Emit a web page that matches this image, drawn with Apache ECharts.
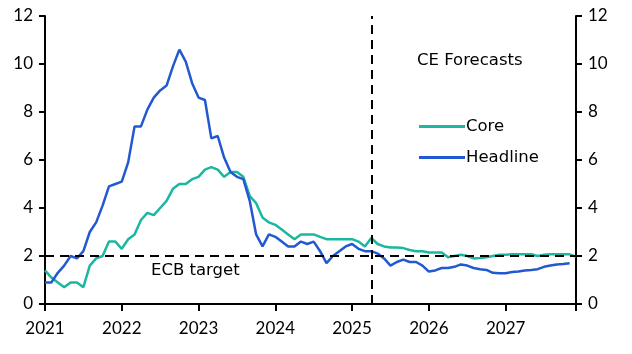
<!DOCTYPE html>
<html>
<head>
<meta charset="utf-8">
<script src="https://cdn.jsdelivr.net/npm/echarts@6/dist/echarts.min.js"></script>
<style>
  html, body { margin: 0; padding: 0; background: #fff; }
  #main { width: 632px; height: 354px; }
</style>
</head>
<body>
<div id="main"></div>
<script>
// months counted from Jan 2021 (0) to Dec 2027 (83)
var yearTicks = ['2021', '2022', '2023', '2024', '2025', '2026', '2027'];

// y/y %, Jan 2021 onwards
var core = [
  1.4, 1.1, 0.9, 0.7, 0.9, 0.9, 0.7, 1.6, 1.9, 2.0, 2.6, 2.6,
  2.3, 2.7, 2.9, 3.5, 3.8, 3.7, 4.0, 4.3, 4.8, 5.0, 5.0, 5.2,
  5.3, 5.6, 5.7, 5.6, 5.3, 5.5, 5.5, 5.3, 4.5, 4.2, 3.6, 3.4,
  3.3, 3.1, 2.9, 2.7, 2.9, 2.9, 2.9, 2.8, 2.7, 2.7, 2.7, 2.7,
  2.7, 2.6, 2.4, 2.75, 2.5, 2.4, 2.35, 2.35, 2.33, 2.25, 2.2, 2.2,
  2.15, 2.15, 2.15, 1.95, 2.0, 2.05, 2.0, 1.9, 1.92, 1.95, 2.0, 2.05,
  2.05, 2.07, 2.07, 2.07, 2.07, 2.0, 2.05, 2.07, 2.07, 2.07, 2.07, 1.97
];
var headline = [
  0.9, 0.9, 1.3, 1.6, 2.0, 1.9, 2.2, 3.0, 3.4, 4.1, 4.9, 5.0,
  5.1, 5.9, 7.4, 7.4, 8.1, 8.6, 8.9, 9.1, 9.9, 10.6, 10.1, 9.2,
  8.6, 8.5, 6.9, 7.0, 6.1, 5.5, 5.3, 5.2, 4.3, 2.9, 2.4, 2.9,
  2.8, 2.6, 2.4, 2.4, 2.6, 2.5, 2.6, 2.2, 1.7, 2.0, 2.2, 2.4,
  2.5, 2.3, 2.2, 2.2, 2.1, 1.9, 1.6, 1.75, 1.85, 1.75, 1.75, 1.6,
  1.35, 1.4, 1.5, 1.5, 1.55, 1.65, 1.6, 1.5, 1.45, 1.42, 1.3, 1.28,
  1.28, 1.33, 1.35, 1.4, 1.42, 1.45, 1.55, 1.6, 1.65, 1.67, 1.7
];
var ecbTarget = 2;
var forecastStart = 51; // Apr 2025

function toPairs(arr) {
  return arr.map(function (v, i) { return [i, v]; });
}

var numFont = 'Lato';
var textFont = 'DejaVu Sans';
var chart = echarts.init(document.getElementById('main'));

var yAxisBase = {
  type: 'value', min: 0, max: 12, interval: 2,
  axisLine: { show: true, lineStyle: { color: '#000', width: 2 } },
  axisTick: { show: true, length: 6, lineStyle: { color: '#000', width: 2 } },
  axisLabel: { color: '#000', fontSize: 17, fontFamily: numFont, margin: 12 },
  splitLine: { show: false }
};

chart.setOption({
  animation: false,
  grid: { left: 45, right: 56, top: 16, bottom: 50 },
  legend: {
    orient: 'vertical', left: 414, top: 113,
    itemWidth: 46, itemHeight: 3, itemGap: 14,
    icon: 'rect',
    textStyle: { color: '#000', fontSize: 16.5, fontFamily: textFont, padding: [0, 0, 0, -4] },
    data: ['Core', 'Headline']
  },
  graphic: [
    { type: 'text', left: 417, top: 52,
      style: { text: 'CE Forecasts', fill: '#000', fontSize: 16.5, fontFamily: textFont } },
    { type: 'text', left: 151, top: 262,
      style: { text: 'ECB target', fill: '#000', fontSize: 16.5, fontFamily: textFont } }
  ],
  xAxis: {
    type: 'value', min: 0, max: 83, interval: 12,
    axisLine: { onZero: false, lineStyle: { color: '#000', width: 2 } },
    axisTick: { length: 7, lineStyle: { color: '#000', width: 2 } },
    axisLabel: {
      color: '#000', fontSize: 17, fontFamily: numFont, margin: 16,
      formatter: function (v) { return v % 12 === 0 ? yearTicks[v / 12] : ''; }
    },
    splitLine: { show: false }
  },
  yAxis: [
    echarts.util.merge({ position: 'left' }, yAxisBase, true),
    echarts.util.merge({ position: 'right' }, yAxisBase, true)
  ],
  series: [
    {
      name: 'Core', type: 'line', data: toPairs(core),
      symbol: 'none', color: '#1bb7a1',
      lineStyle: { width: 2.5 }
    },
    {
      name: 'Headline', type: 'line', data: toPairs(headline),
      symbol: 'none', color: '#2259d1',
      lineStyle: { width: 2.5 },
      markLine: {
        silent: true, symbol: 'none', label: { show: false },
        lineStyle: { color: '#000', type: [9, 6], width: 2 },
        data: [{ yAxis: ecbTarget }, { xAxis: forecastStart }]
      }
    }
  ]
});
</script>
</body>
</html>
